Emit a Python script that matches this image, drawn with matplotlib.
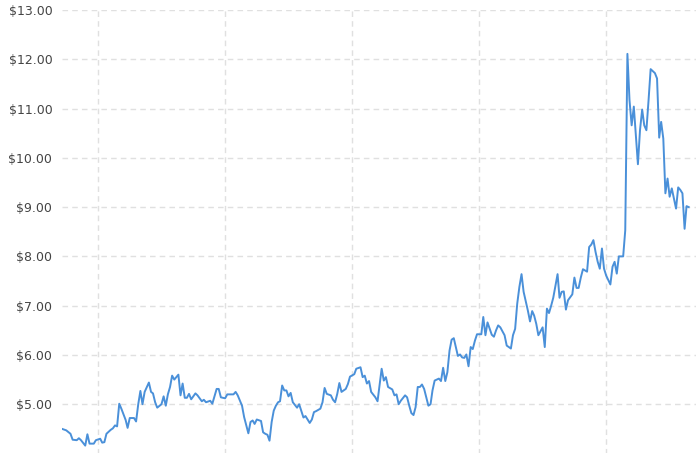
import pandas as pd
import matplotlib.pyplot as plt
from matplotlib.ticker import FuncFormatter

# month offsets from 2000-01
months = [
    -17, -15, -13, -12, -10, -9, -8, -6, -5, -4, -2, -1, 1, 2, 3, 4, 6, 7, 8, 9,
    10, 11, 13, 14, 15, 17, 18, 19, 20, 21, 22, 24, 25, 26, 27, 28, 30, 31, 32,
    33, 34, 35, 36, 38, 39, 40, 41, 42, 43, 44, 46, 47, 49, 50, 51, 53, 54, 56,
    57, 58, 60, 61, 62, 64, 65, 66, 68, 69, 71, 72, 73, 74, 75, 77, 78, 79, 80,
    81, 82, 83, 84, 85, 86, 87, 88, 89, 90, 91, 92, 94, 95, 97, 98, 100, 101,
    102, 103, 105, 106, 107, 108, 110, 111, 112, 113, 114, 115, 117, 118, 119,
    121, 122, 124, 125, 126, 127, 128, 129, 131, 132, 133, 134, 135, 136, 137,
    139, 140, 141, 142, 143, 145, 146, 147, 148, 149, 150, 151, 152, 153, 154,
    156, 157, 158, 159, 161, 162, 163, 164, 165, 166, 167, 168, 170, 171, 172,
    173, 174, 175, 176, 177, 178, 179, 181, 182, 183, 184, 186, 187, 188, 189,
    190, 192, 193, 195, 196, 197, 198, 199, 200, 201, 203, 204, 205, 206, 207,
    208, 210, 211, 212, 213, 214, 215, 217, 218, 219, 220, 221, 222, 224, 225,
    226, 227, 228, 229, 231, 232, 233, 234, 235, 236, 237, 238, 239, 240, 242,
    243, 244, 245, 246, 248, 249, 250, 251, 252, 253, 255, 256, 257, 258, 259,
    260, 261, 263, 264, 265, 266, 267, 268, 269, 270, 271, 273, 274, 275, 276,
    277, 278, 279,
]

prices = [
    4.50, 4.47, 4.40, 4.28, 4.27, 4.31, 4.27, 4.16, 4.39, 4.20, 4.20, 4.27, 4.30,
    4.22, 4.23, 4.40, 4.48, 4.51, 4.57, 4.55,
    5.01, 4.91, 4.68, 4.52, 4.72, 4.72, 4.65, 5.00, 5.27, 5.00, 5.25, 5.44, 5.25,
    5.22, 5.04, 4.93, 5.00, 5.16, 4.97,
    5.20, 5.35, 5.58, 5.50, 5.60, 5.18, 5.42, 5.13, 5.13, 5.21, 5.10, 5.22, 5.18,
    5.06, 5.09, 5.04, 5.07, 5.01, 5.31,
    5.31, 5.14, 5.12, 5.20, 5.20, 5.20, 5.25, 5.18, 4.97, 4.74, 4.41, 4.64, 4.67,
    4.60, 4.69, 4.66, 4.43, 4.40, 4.38,
    4.26, 4.64, 4.87, 4.97, 5.04, 5.06, 5.38, 5.28, 5.28, 5.16, 5.23, 5.04, 4.93,
    5.00, 4.73, 4.76, 4.62, 4.69,
    4.84, 4.86, 4.91, 5.04, 5.33, 5.21, 5.18, 5.09, 5.04, 5.21, 5.43, 5.25, 5.31,
    5.41, 5.56,
    5.61, 5.72, 5.75, 5.55, 5.58, 5.42, 5.47, 5.25, 5.14, 5.06, 5.40, 5.72, 5.48,
    5.55, 5.35,
    5.30, 5.18, 5.20, 5.00, 5.07, 5.18, 5.14, 4.97, 4.82, 4.78, 4.94, 5.35, 5.35,
    5.40, 5.31,
    4.97, 5.00, 5.28, 5.48, 5.52, 5.47, 5.74, 5.47, 5.65, 6.09, 6.31, 6.34, 5.98,
    6.01, 5.95,
    5.94, 6.01, 5.77, 6.16, 6.12, 6.29, 6.42, 6.42, 6.77, 6.40, 6.66, 6.41, 6.37,
    6.50, 6.60,
    6.56, 6.40, 6.19, 6.13, 6.40, 6.53, 7.04, 7.38, 7.64, 7.28, 6.90, 6.68, 6.89,
    6.80, 6.63,
    6.40, 6.56, 6.16, 6.94, 6.85, 7.00, 7.16, 7.64, 7.16, 7.28, 7.29, 6.92, 7.11,
    7.23, 7.57,
    7.36, 7.36, 7.57, 7.74, 7.69, 8.19, 8.24, 8.33, 8.09, 7.89, 7.75, 8.16, 7.75,
    7.61, 7.43,
    7.79, 7.89, 7.65, 8.00, 8.00, 8.53, 12.11, 11.17, 10.66, 11.04, 9.87, 10.56,
    10.98, 10.66, 10.56,
    11.17, 11.80, 11.72, 11.61, 10.41, 10.73, 10.39, 9.28, 9.58, 9.21, 9.38, 8.97,
    9.40, 9.35, 9.28,
    8.56, 9.02, 9.00,
]

base = pd.Period("2000-01", freq="M")
dates = [(base + m).to_timestamp() for m in months]

fig = plt.figure(figsize=(6.96, 4.53), dpi=100)
ax = fig.add_axes([62 / 696, -0.5 / 453, 1 - 62 / 696, 443.5 / 453])

ax.plot(dates, prices, color="#4a90d9", lw=1.4, solid_joinstyle="round")

ax.set_ylim(4, 13)
ax.set_yticks(range(4, 14))
ax.yaxis.set_major_formatter(FuncFormatter(lambda v, p: "" if v < 5 else f"${v:.2f}"))
ax.set_xlim(pd.Timestamp("1998-08-01"), pd.Timestamp("2023-07-15"))
ax.set_xticks([pd.Timestamp(f"{y}-01-01") for y in (2000, 2005, 2010, 2015, 2020)])
ax.set_xticklabels([])

ax.grid(True, color="#e0e0e0", lw=1, dashes=(4, 3))
ax.set_axisbelow(True)
for s in ax.spines.values():
    s.set_visible(False)
ax.tick_params(length=0, pad=7, labelsize=9, labelcolor="#444444")

fig.savefig("out.png", dpi=100)
